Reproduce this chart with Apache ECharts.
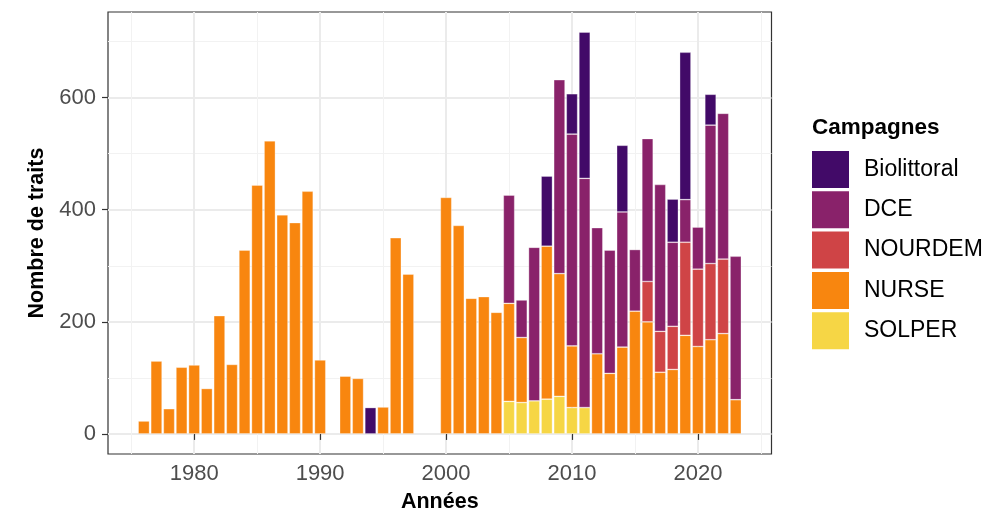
<!DOCTYPE html>
<html>
<head>
<meta charset="utf-8">
<script src="https://cdn.jsdelivr.net/npm/echarts@6/dist/echarts.min.js"></script>
<style>
  html, body { margin: 0; padding: 0; background: #ffffff; }
  #chart { width: 990px; height: 513px; }
</style>
</head>
<body>
<div id="chart"></div>
<script>
// Number of hauls per year, split by survey campaign
const years = [1976,1977,1978,1979,1980,1981,1982,1983,1984,1985,1986,1987,1988,1989,1990,
               1992,1993,1994,1995,1996,1997,
               2000,2001,2002,2003,2004,2005,2006,2007,2008,2009,2010,2011,2012,2013,2014,
               2015,2016,2017,2018,2019,2020,2021,2022,2023];

const solper = [null,null,null,null,null,null,null,null,null,null,null,null,null,null,null,
                null,null,null,null,null,null,
                null,null,null,null,null,58,56,59,62,67,47,47,null,null,null,
                null,null,null,null,null,null,null,null,null];

const nurse = [23,130,45,119,123,81,211,124,328,444,523,391,377,433,132,
               103,99,null,48,350,285,
               422,372,242,245,217,175,116,null,273,219,110,null,143,108,155,
               219,200,110,115,176,156,168,179,61];

const nourdem = [null,null,null,null,null,null,null,null,null,null,null,null,null,null,null,
                 null,null,null,null,null,null,
                 null,null,null,null,null,null,null,null,null,null,null,null,null,null,null,
                 null,72,73,77,166,138,136,133,null];

const dce = [null,null,null,null,null,null,null,null,null,null,null,null,null,null,null,
             null,null,null,null,null,null,
             null,null,null,null,null,193,67,274,null,346,378,409,225,220,241,
             110,255,262,150,76,75,247,260,256];

const biolittoral = [null,null,null,null,null,null,null,null,null,null,null,null,null,null,null,
                     null,null,47,null,null,null,
                     null,null,null,null,null,null,null,null,125,null,72,261,null,null,119,
                     null,null,null,77,263,null,55,null,null];

const legendOrder = ['Biolittoral', 'DCE', 'NOURDEM', 'NURSE', 'SOLPER'];
const xTicks = [1980, 1990, 2000, 2010, 2020];
const xMinorTicks = [1975, 1985, 1995, 2005, 2015, 2025];
const yTicks = [0, 200, 400, 600];
const yMinorTicks = [100, 300, 500, 700];

// Stacking order: first entry sits at the bottom of each bar
const campaigns = [
  { name: 'SOLPER',      values: solper,      color: '#F6D645' },
  { name: 'NURSE',       values: nurse,       color: '#F8860F' },
  { name: 'NOURDEM',     values: nourdem,     color: '#CF4446' },
  { name: 'DCE',         values: dce,         color: '#89226A' },
  { name: 'Biolittoral', values: biolittoral, color: '#420A68' }
];

const FONT = '"Liberation Sans", Arial, Helvetica, sans-serif';

// Panel geometry (pixels)
const GRID_LEFT = 108, GRID_TOP = 12, GRID_W = 663.5, GRID_H = 442;

// Axis ranges with a 5% padding on each side, bars 0.9 year wide
const totals = years.map((_, i) =>
  campaigns.reduce((s, c) => s + (c.values[i] == null ? 0 : c.values[i]), 0));
const yTop = Math.max(...totals);
const yMin = -0.05 * yTop;
const yMax = 1.05 * yTop;
const xLo = years[0] - 0.45, xHi = years[years.length - 1] + 0.45;
const xPad = 0.05 * (xHi - xLo);
const xMin = xLo - xPad, xMax = xHi + xPad;
const barPx = 0.9 * GRID_W / (xMax - xMin);

const plain = v => String(Math.round(v));

const chart = echarts.init(document.getElementById('chart'), null, { renderer: 'canvas' });

chart.setOption({
  animation: false,
  backgroundColor: '#ffffff',
  title: {
    text: 'Campagnes',
    left: 812, top: 116, padding: 0,
    textStyle: { fontFamily: FONT, fontSize: 22.5, fontWeight: 'bold', color: '#000000' }
  },
  legend: {
    orient: 'vertical',
    left: 812, top: 151, padding: 0,
    itemWidth: 37, itemHeight: 37, itemGap: 3.3,
    icon: 'rect',
    selectedMode: false,
    data: legendOrder,
    itemStyle: { borderWidth: 0 },
    textStyle: { fontFamily: FONT, fontSize: 23, color: '#000000', padding: [0, 0, 0, 10] }
  },
  grid: {
    left: GRID_LEFT, top: GRID_TOP, width: GRID_W, height: GRID_H,
    containLabel: false,
    outerBoundsMode: 'none',
    show: true,
    backgroundColor: 'transparent',
    borderColor: '#333333',
    borderWidth: 1.2
  },
  xAxis: [
    {
      type: 'value', min: xMin, max: xMax, position: 'bottom',
      axisLine: { show: false },
      axisTick: { show: true, customValues: xTicks, length: 6, lineStyle: { color: '#333333', width: 1.2 } },
      axisLabel: { customValues: xTicks, formatter: plain, color: '#4D4D4D', fontSize: 22, margin: 9, fontFamily: FONT },
      splitLine: { show: true, lineStyle: { color: '#EBEBEB', width: 2 } },
      name: 'Années', nameLocation: 'middle', nameGap: 37,
      nameTextStyle: { fontFamily: FONT, fontSize: 21.5, fontWeight: 'bold', color: '#000000' }
    },
    {
      type: 'value', min: xMin, max: xMax, position: 'top',
      axisLine: { show: false },
      axisTick: { show: false, customValues: xMinorTicks },
      axisLabel: { show: false, customValues: xMinorTicks },
      splitLine: { show: true, lineStyle: { color: '#F2F2F2', width: 1 } }
    }
  ],
  yAxis: [
    {
      type: 'value', min: yMin, max: yMax, position: 'left',
      axisLine: { show: false },
      axisTick: { show: true, customValues: yTicks, length: 6, lineStyle: { color: '#333333', width: 1.2 } },
      axisLabel: { customValues: yTicks, formatter: plain, color: '#4D4D4D', fontSize: 22, margin: 12, fontFamily: FONT },
      splitLine: { show: true, lineStyle: { color: '#EBEBEB', width: 2 } },
      name: 'Nombre de traits', nameLocation: 'middle', nameGap: 53, nameRotate: 90,
      nameTextStyle: { fontFamily: FONT, fontSize: 21.5, fontWeight: 'bold', color: '#000000' }
    },
    {
      type: 'value', min: yMin, max: yMax, position: 'right',
      axisLine: { show: false },
      axisTick: { show: false, customValues: yMinorTicks },
      axisLabel: { show: false, customValues: yMinorTicks },
      splitLine: { show: true, lineStyle: { color: '#F2F2F2', width: 1 } }
    }
  ],
  series: campaigns.map(c => ({
    name: c.name,
    type: 'bar',
    stack: 'campagnes',
    xAxisIndex: 0,
    yAxisIndex: 0,
    barWidth: barPx,
    // value first so the stacked dimension is the count, year mapped to x
    encode: { x: 1, y: 0 },
    data: years.map((yr, i) => [c.values[i] == null ? '-' : c.values[i], yr]),
    itemStyle: { color: c.color, borderColor: 'rgba(255,255,255,0.45)', borderWidth: 0.7 },
    emphasis: { disabled: true },
    silent: true
  }))
});
</script>
</body>
</html>
